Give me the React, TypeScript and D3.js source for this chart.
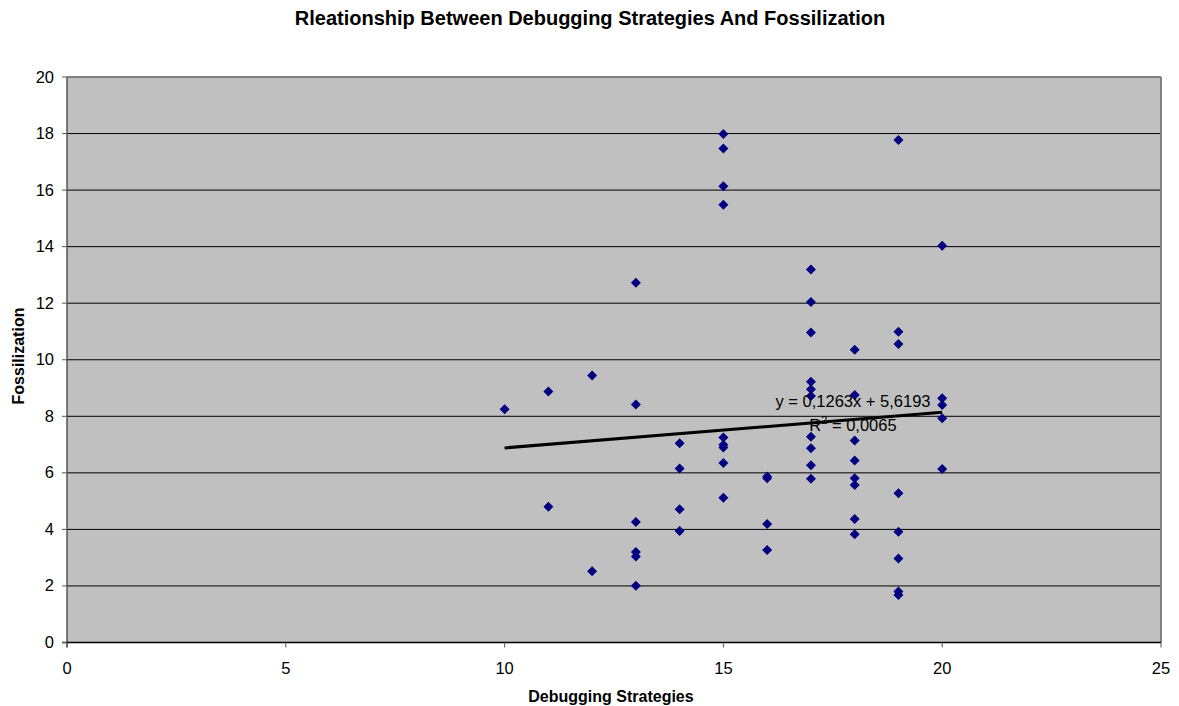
import React from 'react';
import { scaleLinear } from 'd3';

// Debugging strategies score (x) and fossilization score (y), one entry per learner
const debugging = [
  10,
  11, 11,
  12, 12,
  13, 13, 13, 13, 13, 13,
  14, 14, 14, 14,
  15, 15, 15, 15, 15, 15, 15, 15, 15,
  16, 16, 16, 16,
  17, 17, 17, 17, 17, 17, 17, 17, 17, 17,
  18, 18, 18, 18, 18, 18, 18, 18,
  19, 19, 19, 19, 19, 19, 19, 19,
  20, 20, 20, 20, 20,
];
const fossilization = [
  8.25,
  8.88, 4.8,
  9.44, 2.52,
  12.72, 8.42, 4.26, 3.2, 3.04, 2.01,
  7.05, 6.15, 4.71, 3.94,
  17.98, 17.47, 16.14, 15.48, 7.25, 6.99, 6.9, 6.35, 5.12,
  5.87, 5.81, 4.19, 3.27,
  13.19, 12.04, 10.96, 9.22, 8.96, 8.72, 7.28, 6.87, 6.27, 5.79,
  10.35, 8.75, 7.14, 6.44, 5.81, 5.57, 4.37, 3.83,
  17.77, 10.99, 10.56, 5.28, 3.92, 2.97, 1.8, 1.68,
  14.03, 8.64, 8.4, 7.93, 6.14,
];

const xTicks = [0, 5, 10, 15, 20, 25];
const yTicks = [0, 2, 4, 6, 8, 10, 12, 14, 16, 18, 20];

// linear trendline as reported in the chart
const slope = 0.1263;
const intercept = 5.6193;
const rSquared = 0.0065;

const font = '"Liberation Sans", Arial, sans-serif';

const App = () => {
  const left = 67;
  const right = 1161;
  const top = 77;
  const bottom = 642.5;

  const x = scaleLinear().domain([0, 25]).range([left, right]);
  const y = scaleLinear().domain([0, 20]).range([bottom, top]);

  const xMin = Math.min(...debugging);
  const xMax = Math.max(...debugging);
  const fmt = (v: number) => v.toFixed(4).replace('.', ',');
  const m = 5; // marker half size

  return (
    <svg width={1179} height={706} style={{ position: 'absolute', left: 0, top: 0, background: '#fff' }} fontFamily={font}>
      <text x={590} y={25} textAnchor="middle" fontSize={20} fontWeight="bold">
        Rleationship Between Debugging Strategies And Fossilization
      </text>

      <rect x={left} y={top} width={right - left} height={bottom - top} fill="#c0c0c0" />

      {yTicks.filter(t => t > 0).map(t => (
        <line key={t} x1={left} x2={right} y1={y(t)} y2={y(t)} stroke="#000" strokeWidth={1} />
      ))}

      <line x1={left} x2={right} y1={top} y2={top} stroke="#808080" strokeWidth={2} />
      <line x1={right} x2={right} y1={top} y2={bottom} stroke="#808080" strokeWidth={2} />
      <line x1={left} x2={left} y1={top} y2={bottom + 5} stroke="#555" strokeWidth={1.5} />
      <line x1={left - 5} x2={right} y1={bottom} y2={bottom} stroke="#000" strokeWidth={1.5} />

      {yTicks.map(t => (
        <g key={t}>
          <line x1={left - 5} x2={left} y1={y(t)} y2={y(t)} stroke="#555" />
          <text x={54} y={y(t) + 5.5} textAnchor="end" fontSize={16.5}>{t}</text>
        </g>
      ))}
      {xTicks.map(t => (
        <g key={t}>
          <line x1={x(t)} x2={x(t)} y1={bottom} y2={bottom + 5} stroke="#555" />
          <text x={x(t)} y={674} textAnchor="middle" fontSize={16.5}>{t}</text>
        </g>
      ))}

      {debugging.map((d, i) => {
        const cx = x(d);
        const cy = y(fossilization[i]);
        return (
          <path key={i} d={`M${cx},${cy - m}L${cx + m},${cy}L${cx},${cy + m}L${cx - m},${cy}Z`} fill="#000080" />
        );
      })}

      <line
        x1={x(xMin)} y1={y(slope * xMin + intercept)}
        x2={x(xMax)} y2={y(slope * xMax + intercept)}
        stroke="#000" strokeWidth={3}
      />
      <text x={853} y={407} textAnchor="middle" fontSize={16.5}>
        y = {fmt(slope)}x + {fmt(intercept)}
      </text>
      <text x={853} y={431} textAnchor="middle" fontSize={16.5}>
        R<tspan dy={-7} fontSize={11}>2</tspan><tspan dy={7}> = {fmt(rSquared)}</tspan>
      </text>

      <text x={611} y={702} textAnchor="middle" fontSize={16} fontWeight="bold">Debugging Strategies</text>
      <text transform={`translate(24,356) rotate(-90)`} textAnchor="middle" fontSize={16} fontWeight="bold">
        Fossilization
      </text>
    </svg>
  );
};

export default App;
